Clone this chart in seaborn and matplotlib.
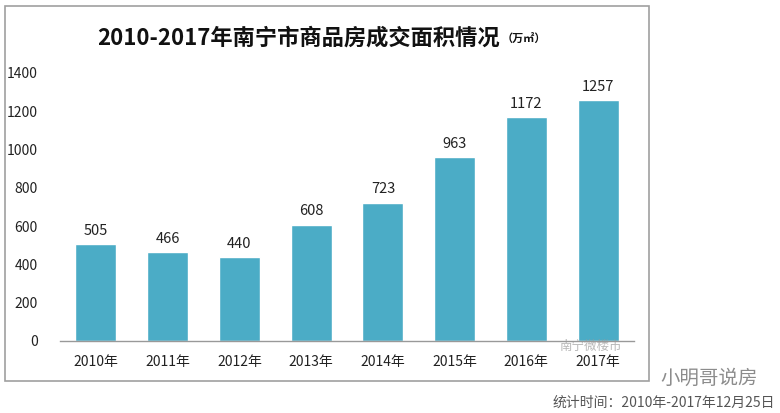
import numpy as np
import pandas as pd
import matplotlib
matplotlib.use("Agg")
import matplotlib.pyplot as plt
import seaborn as sns
from matplotlib.patches import Rectangle

# 数据
years = ["2010年", "2011年", "2012年", "2013年", "2014年", "2015年", "2016年", "2017年"]
area = [505, 466, 440, 608, 723, 963, 1172, 1257]
y_ticks = [0, 200, 400, 600, 800, 1000, 1200, 1400]

title = "2010-2017年南宁市商品房成交面积情况"
unit = "（万㎡）"
note = "统计时间：2010年-2017年12月25日"

sns.set_style("white")
plt.rcParams['font.family'] = ['Noto Sans CJK SC', 'DejaVu Sans']

df = pd.DataFrame({"year": years, "area": area})

W, H = 780, 413
fig = plt.figure(figsize=(W / 100, H / 100), dpi=100)
ax = fig.add_axes([60 / W, 1 - 341 / H, (634 - 60) / W, (341 - 73) / H])

sns.barplot(data=df, x="year", y="area", color="#4BACC6", saturation=1,
            width=0.57, ax=ax)

for i, v in enumerate(area):
    ax.text(i, v + 32, str(v), ha="center", va="bottom", fontsize=10.5,
            color="#222222", clip_on=False)

ax.set_ylim(0, 1400)
ax.set_xlim(-0.5, 7.5)
ax.set_yticks(y_ticks)
ax.tick_params(axis="both", length=0, labelsize=10, colors="#222222")
ax.tick_params(axis="x", pad=10)
ax.tick_params(axis="y", pad=16)
ax.set_xlabel("")
ax.set_ylabel("")
for s in ["top", "right", "left"]:
    ax.spines[s].set_visible(False)
ax.spines["bottom"].set_color("#999999")
ax.spines["bottom"].set_linewidth(1)

# 外框
fig.patches.append(Rectangle((5 / W, 1 - 381 / H), (649 - 5) / W, (381 - 6) / H,
                             transform=fig.transFigure, fill=False,
                             edgecolor="#A0A0A0", linewidth=1.2))

# 标题
fig.text(500 / W, 1 - 38 / H, title, ha="right", va="center", fontsize=16,
         fontweight="bold", color="#111111")
fig.text(502 / W, 1 - 39 / H, unit, ha="left", va="center", fontsize=8,
         fontweight="bold", color="#111111")

# 水印与说明
fig.text(590 / W, 1 - 346 / H, "南宁微楼市", ha="center", va="center",
         fontsize=9, color="#9A9A9A", alpha=0.7)
fig.text(709 / W, 1 - 378 / H, "小明哥说房", ha="center", va="center",
         fontsize=14, color="#8C8C8C")
fig.text(775 / W, 1 - 403 / H, note, ha="right", va="center", fontsize=10,
         color="#555555")

fig.savefig("out.png", dpi=100)
